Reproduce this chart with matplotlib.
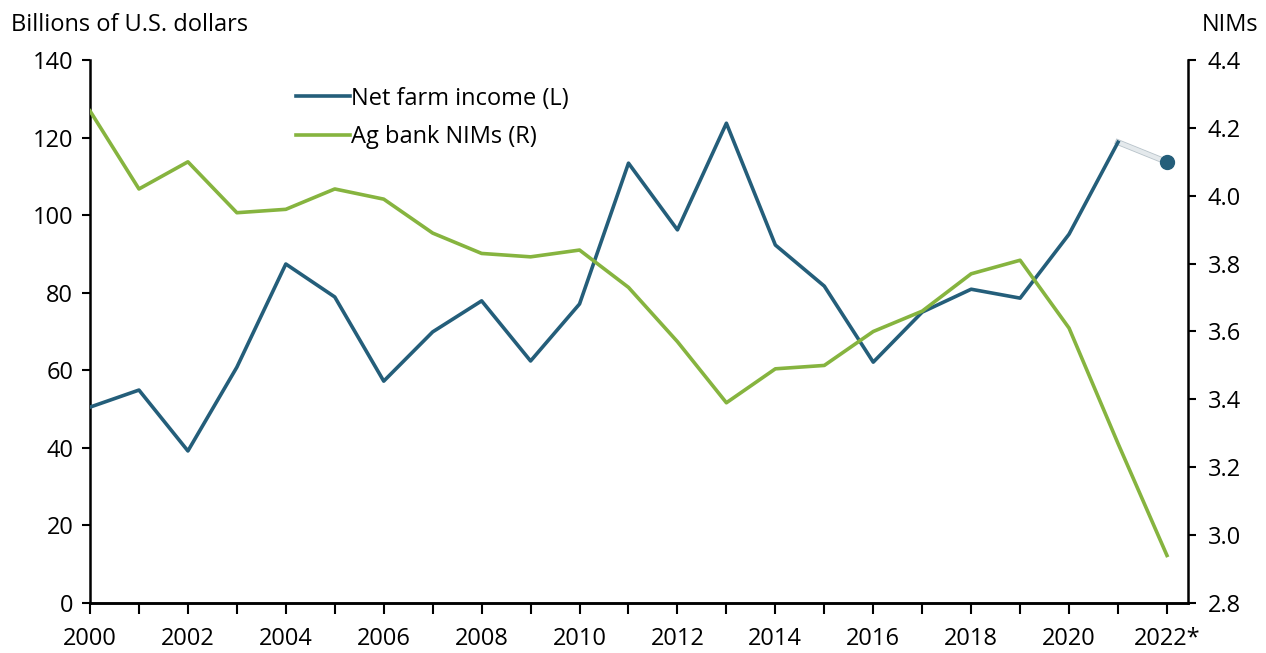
import matplotlib.pyplot as plt
import matplotlib.patheffects as pe

plt.rcParams['font.family'] = ['Open Sans', 'DejaVu Sans']

years = list(range(2000, 2023))
net_farm_income = [50.5, 54.9, 39.2, 60.8, 87.4, 78.9, 57.2, 69.9, 77.9, 62.4, 77.1,
                   113.4, 96.2, 123.7, 92.3, 81.7, 62.1, 75.0, 80.9, 78.6, 95.1, 118.8, 113.7]
ag_bank_nims = [4.25, 4.02, 4.10, 3.95, 3.96, 4.02, 3.99, 3.89, 3.83, 3.82, 3.84,
                3.73, 3.57, 3.39, 3.49, 3.50, 3.60, 3.66, 3.77, 3.81, 3.61, 3.27, 2.94]
tick_years = list(range(2000, 2023, 2))
tick_labels = [str(y) for y in tick_years[:-1]] + ['2022*']

blue = '#245e7a'
green = '#86b43f'
fs = 17

fig = plt.figure(figsize=(12.66, 6.53), dpi=100)
ax = fig.add_axes([0.0711, 0.0766, 0.8673, 0.8315])
ax2 = ax.twinx()

# income: actual through 2021, forecast segment to 2022
ax.plot(years[:-1], net_farm_income[:-1], color=blue, lw=2.6, label='Net farm income (L)', zorder=3)
ax.plot(years[-2:], net_farm_income[-2:], color='#e4e9ec', lw=3,
        path_effects=[pe.Stroke(linewidth=4.2, foreground='#b8c3ca'), pe.Normal()], zorder=2)
ax.plot(years[-1], net_farm_income[-1], 'o', color=blue, ms=10, zorder=4)

ax2.plot(years, ag_bank_nims, color=green, lw=2.6, label='Ag bank NIMs (R)')
ax.plot([], [], color=green, lw=2.6, label='Ag bank NIMs (R)')

ax.set_xlim(2000, 2022.43)
ax.set_ylim(0, 140)
ax.set_yticks(range(0, 141, 20))
ax2.set_ylim(2.8, 4.4)
ax2.set_yticks([2.8, 3.0, 3.2, 3.4, 3.6, 3.8, 4.0, 4.2, 4.4])
ax2.set_yticklabels(['2.8', '3.0', '3.2', '3.4', '3.6', '3.8', '4.0', '4.2', '4.4'])

ax.set_xticks(years, minor=True)
ax.set_xticks(tick_years)
ax.set_xticklabels(tick_labels)

for a in (ax, ax2):
    a.spines['top'].set_visible(False)
ax.spines['right'].set_visible(False)
ax2.spines['left'].set_visible(False)
for a in (ax, ax2):
    for s in a.spines.values():
        s.set_linewidth(1.8)
ax.tick_params(axis='x', which='both', direction='out', length=8, width=1.5, pad=9, labelsize=fs)
ax.tick_params(axis='y', direction='out', length=6, width=1.5, pad=6, labelsize=fs)
ax2.tick_params(axis='y', direction='out', length=6, width=1.5, pad=8, labelsize=fs)

ax.legend(loc='upper left', bbox_to_anchor=(0.168, 0.99), frameon=False, fontsize=fs,
          handlelength=2.3, handletextpad=0.05, labelspacing=0.62)

fig.text(0.009, 0.962, 'Billions of U.S. dollars', fontsize=fs, ha='left', va='center')
fig.text(0.994, 0.962, 'NIMs', fontsize=fs, ha='right', va='center')

fig.savefig('out.png', dpi=100)
